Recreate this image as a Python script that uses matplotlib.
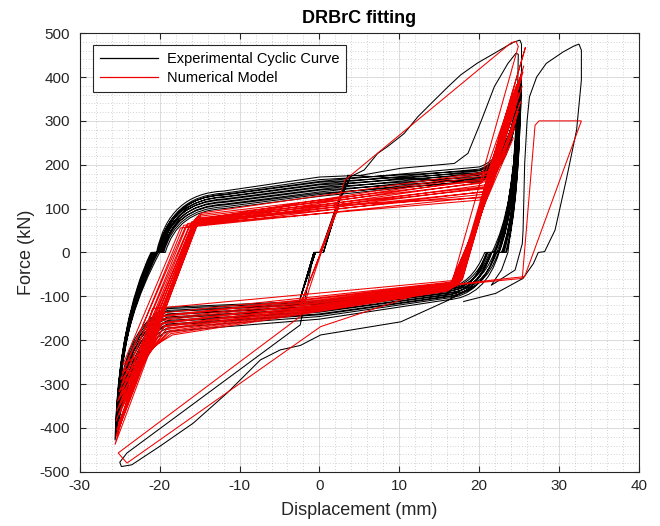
import matplotlib.pyplot as plt
from matplotlib.path import Path
from matplotlib.patches import PathPatch
from matplotlib.lines import Line2D
from matplotlib.ticker import MultipleLocator

plt.rcParams['font.family'] = ['Liberation Sans', 'DejaVu Sans']
plt.rcParams['axes.unicode_minus'] = False

# ---------------- experimental curve (black) ----------------
# first small elastic loops around the origin
ini_pk_x = [3.1, 3.3, 3.4, 3.6]
ini_pk_y = [156, 164, 170, 176]
ini_nk_x = [-2.3, -2.4, -2.5]
ini_nk_y = [-98, -104, -110]

# +/-25 mm cycles: peaks
bk_pk_x = [24.7, 25.0, 24.8, 25.1, 24.9, 25.2, 24.9, 25.3, 25.0, 25.2, 24.8, 25.1, 25.0, 25.3]
bk_pk_y = [318, 352, 336, 371, 344, 389, 360, 398, 377, 405, 366, 393, 383, 410]
bk_nk_x = [-24.9, -25.1, -25.0, -25.3, -25.1, -25.4, -25.2, -25.5, -25.3, -25.4, -25.2, -25.5, -25.3, -25.6]
bk_nk_y = [-300, -335, -318, -352, -330, -370, -345, -388, -362, -402, -378, -415, -395, -428]
# upper branch: zero crossing x, force at x=-12, x=0, x=20
bk_zl = [-20.0, -20.5, -20.2, -20.7, -20.3, -20.8, -20.4, -20.9, -20.6, -21.0, -20.5, -20.9, -20.7, -21.1]
bk_ua = [100, 108, 104, 114, 110, 120, 116, 126, 122, 131, 127, 135, 132, 140]
bk_ub = [128, 135, 132, 142, 138, 148, 144, 154, 150, 160, 156, 166, 162, 172]
bk_uc = [160, 165, 162, 170, 167, 176, 172, 181, 178, 186, 182, 190, 187, 195]
# lower branch: zero crossing x, force at x=16, x=0, x=-19
bk_zr = [21.6, 22.4, 21.9, 22.8, 22.2, 23.1, 22.0, 23.3, 22.5, 23.0, 21.8, 22.9, 22.4, 23.4]
bk_la = [-80, -84, -82, -88, -85, -92, -89, -96, -93, -100, -97, -104, -101, -108]
bk_lb = [-110, -116, -113, -122, -118, -128, -124, -134, -130, -140, -136, -146, -142, -152]
bk_lc = [-125, -132, -128, -140, -135, -147, -142, -155, -150, -163, -158, -172, -166, -180]

# last large cycles and the final push to 32 mm
bk_big1_x = [5.2, 10.2, 16.9, 18.6, 20.3, 21.9, 23.6, 24.6, 24.9]
bk_big1_y = [176, 192, 203, 226, 302, 378, 431, 454, 452]
bk_drop1_x = [24.8, 24.3, 23.4, 22.5, 21.5, 20.5, 19.0, 16.0, 10.2, 0.15, -2.4, -4.9, -7.4,
              -11.6, -15.8, -20.0, -23.5, -24.8, -25.0]
bk_drop1_y = [350, 200, 80, 0, 0, -40, -80, -110, -158, -188, -212, -222, -245,
              -321, -389, -442, -484, -488, -478]
bk_back_x = [-24.1, -2.4, -0.7, 0.1, 1.8, 3.9]
bk_back_y = [-457, -165, 0, 0, 89, 173]
bk_big2_x = [5.6, 7.3, 8.5, 10.6, 12.3, 14.0, 16.0, 17.7, 19.8, 21.9, 23.4, 24.4, 25.1, 25.3]
bk_big2_y = [188, 226, 241, 271, 309, 340, 376, 405, 432, 454, 470, 480, 484, 475]
bk_last_x = [25.3, 24.9, 24.3, 23.6, 22.8, 21.5, 24.5, 25.4, 25.5, 25.7, 26.0, 26.3, 27.2, 28.4,
             30.5, 31.8, 32.5, 32.8, 32.8, 32.2, 30.9, 29.5, 28.2, 27.4, 26.8, 25.5, 22.1, 18.0]
bk_last_y = [400, 250, 100, 0, -40, -75, -40, 20, 51, 203, 300, 355, 400, 431,
             457, 470, 475, 461, 393, 279, 165, 51, 2, 0, -25, -59, -93, -112]

# ---------------- numerical model (red) ----------------
rd_ini_x = [0.0, 2.4, -2.4, 2.5]
rd_ini_y = [0, 105, -120, 108]
rd_ur_x = [20.6, 21.0, 20.4, 21.3, 20.8, 21.5, 20.5, 21.1, 20.9, 21.4, 20.7, 21.2, 20.3, 21.0, 20.8, 21.3]
rd_ur_y = [125, 128, 120, 140, 133, 150, 138, 155, 146, 163, 150, 170, 158, 176, 165, 182]
rd_pk_x = [24.3, 24.6, 24.5, 24.9, 24.7, 25.2, 24.6, 25.0, 24.8, 25.4, 24.9, 25.3, 24.7, 25.5, 25.1, 25.6]
rd_pk_y = [262, 300, 285, 322, 308, 345, 330, 362, 350, 380, 366, 398, 384, 412, 400, 426]
rd_lr_x = [16.0, 16.4, 16.2, 16.8, 16.5, 17.1, 16.7, 17.3, 16.9, 17.5, 17.0, 17.6, 17.2, 17.8, 17.4, 17.9]
rd_lr_y = [-88, -84, -86, -80, -82, -77, -79, -74, -76, -71, -73, -68, -70, -65, -67, -62]
rd_ll_x = [-18.4, -18.8, -18.6, -19.2, -18.9, -19.5, -19.1, -19.8, -19.4, -20.1, -19.6, -20.4, -19.9, -20.7, -20.2, -20.9]
rd_ll_y = [-188, -182, -185, -176, -179, -170, -173, -163, -167, -156, -160, -148, -152, -140, -145, -128]
rd_nk_x = [-24.6, -24.9, -24.7, -25.1, -24.8, -25.3, -24.9, -25.4, -25.0, -25.5, -25.1, -25.4, -25.2, -25.5, -25.3, -25.6]
rd_nk_y = [-255, -290, -275, -318, -300, -340, -326, -362, -348, -385, -370, -405, -392, -420, -410, -438]
rd_ul_x = [-17.4, -17.0, -16.8, -16.5, -16.3, -16.0, -15.9, -15.7, -15.6, -15.5, -15.4, -15.3, -15.2, -15.1, -15.0, -14.8]
rd_ul_y = [56, 62, 58, 66, 61, 70, 64, 74, 67, 78, 70, 82, 73, 86, 76, 90]
rd_tail_x = [21.3, 25.8, 17.2, 0.15, -24.1, -25.2, -2.4, 3.2, 24.0, 24.6, 24.9, 16.5, 25.4,
             27.0, 27.5, 32.8, 25.7, 22.1, 15.5]
rd_tail_y = [185, 468, -66, -169, -480, -457, -146, 165, 478, 481, 470, -75, -59,
             290, 300, 300, -55, -62, -76]


class PathBuilder:
    def __init__(self, x, y):
        self.verts = [(x, y)]
        self.codes = [Path.MOVETO]

    def line(self, x, y):
        self.verts.append((x, y))
        self.codes.append(Path.LINETO)

    def curve(self, cx, cy, x, y):
        self.verts += [(cx, cy), (x, y)]
        self.codes += [Path.CURVE3, Path.CURVE3]

    def polyline(self, xs, ys):
        for x, y in zip(xs, ys):
            self.line(x, y)

    def path(self):
        return Path(self.verts, self.codes)


# black path
pb = PathBuilder(0, 0)
for i in range(len(ini_nk_x)):
    pb.line(0.2, 0)
    pb.line(ini_pk_x[i], ini_pk_y[i])
    pb.line(0.5, 0)
    pb.line(-0.5, 0)
    pb.line(ini_nk_x[i], ini_nk_y[i])
    pb.line(-0.7, 0)
pb.line(0.2, 0)
pb.line(ini_pk_x[-1], ini_pk_y[-1])
for k in range(len(bk_pk_x)):
    pb.line(20, bk_uc[k])
    pb.curve(bk_pk_x[k] - 0.9, bk_uc[k] + 25, bk_pk_x[k], bk_pk_y[k])
    # unloading and lower plateau
    pb.curve(bk_pk_x[k] - 0.3, 100, bk_zr[k], 0)
    pb.line(bk_zr[k] - 0.9, 0)
    pb.curve(bk_zr[k] - 2.6, bk_la[k] + 5, 16, bk_la[k])
    pb.line(0, bk_lb[k])
    pb.line(-19, bk_lc[k])
    pb.curve(-23.6, bk_lc[k] - 35, bk_nk_x[k], bk_nk_y[k])
    # unloading from the negative peak and upper plateau
    pb.curve(bk_nk_x[k] + 0.5, -150, bk_zl[k], 0)
    pb.line(bk_zl[k] + 0.7, 0)
    pb.curve(bk_zl[k] + 2.2, bk_ua[k] - 5, -12, bk_ua[k])
    pb.line(0, bk_ub[k])
pb.polyline(bk_big1_x, bk_big1_y)
pb.polyline(bk_drop1_x, bk_drop1_y)
pb.polyline(bk_back_x, bk_back_y)
pb.polyline(bk_big2_x, bk_big2_y)
pb.polyline(bk_last_x, bk_last_y)
black_path = pb.path()

# red path
pr = PathBuilder(rd_ini_x[0], rd_ini_y[0])
pr.polyline(rd_ini_x[1:], rd_ini_y[1:])
for k in range(len(rd_ur_x)):
    pr.line(rd_ur_x[k], rd_ur_y[k])
    pr.line(rd_pk_x[k], rd_pk_y[k])
    pr.line(rd_lr_x[k], rd_lr_y[k])
    pr.line(rd_ll_x[k], rd_ll_y[k])
    pr.line(rd_nk_x[k], rd_nk_y[k])
    pr.line(rd_ul_x[k], rd_ul_y[k])
pr.polyline(rd_tail_x, rd_tail_y)
red_path = pr.path()

fig, ax = plt.subplots(figsize=(6.6, 5.26), dpi=100)
fig.subplots_adjust(left=0.121, right=0.968, bottom=0.103, top=0.937)

ax.add_patch(PathPatch(black_path, facecolor='none', edgecolor='black', lw=0.75))
ax.add_patch(PathPatch(red_path, facecolor='none', edgecolor='#f00000', lw=0.75))

ax.set_xlim(-30, 40)
ax.set_ylim(-500, 500)
ax.xaxis.set_major_locator(MultipleLocator(10))
ax.yaxis.set_major_locator(MultipleLocator(100))
ax.xaxis.set_minor_locator(MultipleLocator(2))
ax.yaxis.set_minor_locator(MultipleLocator(20))
ax.grid(which='major', color='#d4d4d4', lw=0.6, ls='-')
ax.grid(which='minor', color='#aaaaaa', lw=0.5, ls=(0, (1, 3)))
ax.set_axisbelow(True)
ax.tick_params(which='major', direction='in', top=True, right=True, length=4,
               labelsize=11, colors='#262626')
ax.tick_params(axis='y', which='major', pad=7)
ax.tick_params(axis='x', which='major', pad=5)
ax.tick_params(which='minor', length=0)
for s in ax.spines.values():
    s.set_color('#262626')
    s.set_linewidth(0.8)

ax.set_title('DRBrC fitting', fontsize=13, fontweight='bold', pad=7)
ax.set_xlabel('Displacement (mm)', fontsize=13, color='#262626', labelpad=7)
ax.set_ylabel('Force (kN)', fontsize=13, color='#262626', labelpad=3)

handles = [Line2D([], [], color='black', lw=0.9), Line2D([], [], color='#f00000', lw=0.9)]
leg = ax.legend(handles, ['Experimental Cyclic Curve', 'Numerical Model'],
                loc='upper left', bbox_to_anchor=(0.0242, 0.972), borderaxespad=0,
                fontsize=10.5, handlelength=4.0, handletextpad=0.6, fancybox=False,
                framealpha=1, edgecolor='#262626', borderpad=0.45, labelspacing=0.35)
leg.get_frame().set_linewidth(0.8)

fig.savefig('out.png', dpi=100)
